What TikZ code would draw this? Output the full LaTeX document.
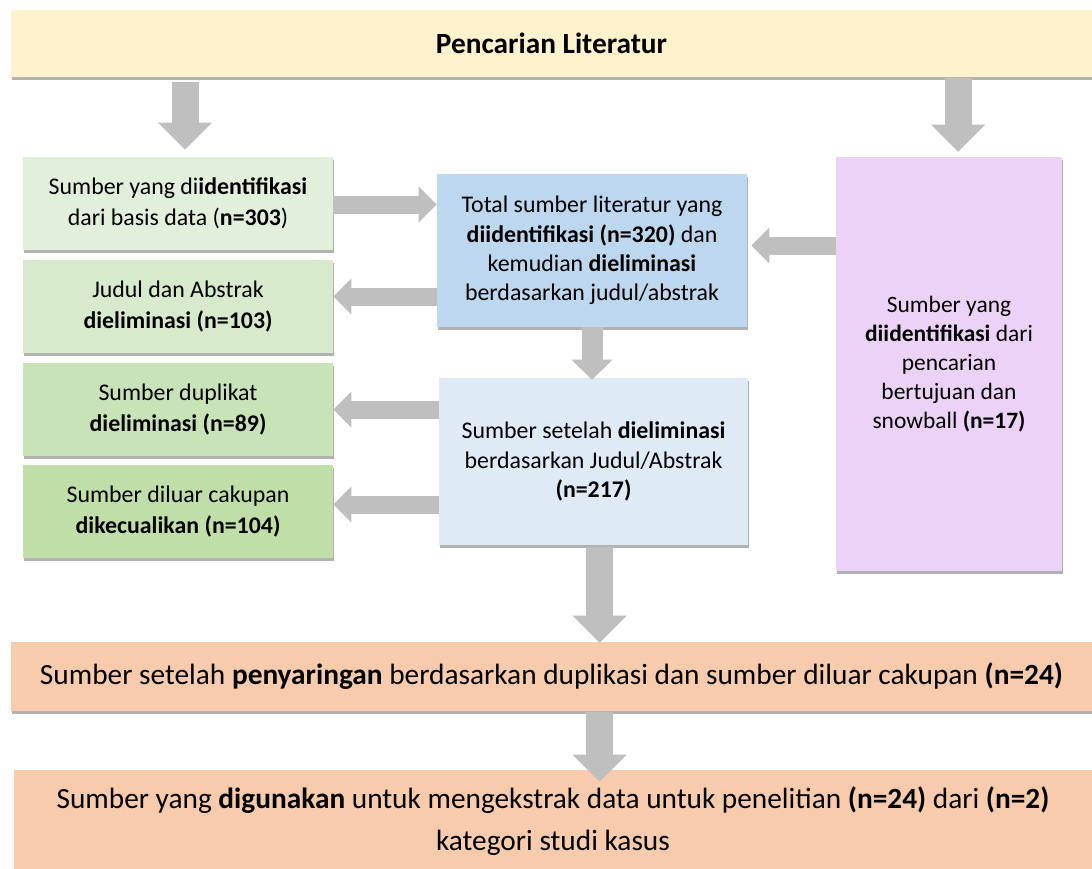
\documentclass[tikz,border=0pt]{standalone}
\usepackage{fontspec}
\setmainfont{Carlito}
\usetikzlibrary{arrows.meta,calc,shadows}

\definecolor{arrowgray}{HTML}{BFBFBF}
\definecolor{titleyellow}{RGB}{255,242,204}
\definecolor{greenA}{RGB}{226,239,218}
\definecolor{greenB}{RGB}{216,234,204}
\definecolor{greenC}{RGB}{201,227,184}
\definecolor{greenD}{RGB}{192,222,168}
\definecolor{blueA}{RGB}{189,215,238}
\definecolor{blueB}{RGB}{222,234,246}
\definecolor{lilac}{RGB}{237,210,247}
\definecolor{peach}{RGB}{248,203,173}

\tikzset{
  box/.style={rectangle, inner sep=0pt, align=center,
    font=\fontsize{17.9}{22.1}\selectfont,
    drop shadow={shadow xshift=0.75pt, shadow yshift=-2.25pt, opacity=0.3, fill=black}},
  sidebox/.style={box, minimum width=232.5pt, minimum height=69.75pt,
    font=\fontsize{17.9}{23.2}\selectfont},
  widebox/.style={box, fill=peach, font=\fontsize{22}{31.5}\selectfont},
  bigarrow/.style={draw=arrowgray, line width=20.25pt,
    -{Triangle[width=40.5pt,length=20.25pt,line width=0pt]}},
  downarrow/.style={draw=arrowgray, line width=15.75pt,
    -{Triangle[width=30.75pt,length=15pt,line width=0pt]}},
  sidearrow/.style={draw=arrowgray, line width=13.5pt,
    -{Triangle[width=27pt,length=13.5pt,line width=0pt]}}
}

\begin{document}
\begin{tikzpicture}[x=0.75pt,y=-0.75pt]
  \fill[white] (0,0) rectangle (1092,868);
  \useasboundingbox (0,0) rectangle (1092,868);

  % search
  \node[box, fill=titleyellow, minimum width=810.75pt, minimum height=50.25pt, font=\fontsize{22}{26}\selectfont] (search) at (551.5,43.5) {\textbf{Pencarian Literatur}};

  % left column
  \node[sidebox, fill=greenA] (found) at (178,203.5) {Sumber yang di\textbf{identifikasi}\\dari basis data (\textbf{n=303})};
  \node[sidebox, fill=greenB] (title) at (178,306.5) {Judul dan Abstrak\\\textbf{dieliminasi (n=103)}};
  \node[sidebox, fill=greenC] (dupl) at (178,409.5) {Sumber duplikat\\\textbf{dieliminasi (n=89)}};
  \node[sidebox, fill=greenD] (scope) at (178,511.5) {Sumber diluar cakupan\\\textbf{dikecualikan (n=104)}};

  % middle column
  \node[box, fill=blueA, minimum width=232.5pt, minimum height=114.75pt] (total) at (592,250.5) {Total sumber literatur yang\\\textbf{diidentifikasi (n=320)} dan\\kemudian \textbf{dieliminasi}\\berdasarkan judul/abstrak};
  \node[box, fill=blueB, minimum width=231.75pt, minimum height=125.25pt] (after) at (593.5,461.5) {Sumber setelah \textbf{dieliminasi}\\berdasarkan Judul/Abstrak\\\textbf{(n=217)}};

  % right column
  \node[box, fill=lilac, minimum width=169.5pt, minimum height=310.5pt, font=\fontsize{17.6}{21.8}\selectfont] (snow) at (949,364) {Sumber yang\\\textbf{diidentifikasi} dari\\pencarian\\bertujuan dan\\snowball \textbf{(n=17)}};

  % bottom
  \node[widebox, minimum width=810.75pt, minimum height=51.75pt] (screen) at (551.5,676.5) {Sumber setelah \textbf{penyaringan} berdasarkan duplikasi dan sumber diluar cakupan \textbf{(n=24)}};
  \node[widebox, minimum width=808.5pt, minimum height=76.5pt] (used) at (553,821) {Sumber yang \textbf{digunakan} untuk mengekstrak data untuk penelitian \textbf{(n=24)} dari \textbf{(n=2)}\\kategori studi kasus};

  % arrows
  \draw[bigarrow] ($(found.north |- search.south)+(7,5)$) -- ($(found.north)+(7,-7)$);
  \draw[bigarrow] ($(snow.north |- search.south)+(9,1)$) -- ($(snow.north)+(9,-5)$);
  \draw[sidearrow] ($(found.east)+(0,1)$) -- ($(found.east -| total.west)+(0,1)$);
  \draw[sidearrow] ($(total.west |- title.east)+(0,-10)$) -- ($(title.east)+(0,-10)$);
  \draw[sidearrow] ($(snow.west |- total.east)+(0,-5)$) -- ($(total.east)+(4,-5)$);
  \draw[downarrow] (total.south) -- ($(total.south |- after.north)+(0,2)$);
  \draw[sidearrow] (after.west |- dupl.east) -- (dupl.east);
  \draw[sidearrow] ($(after.west |- scope.east)+(0,-7)$) -- ($(scope.east)+(0,-7)$);
  \draw[bigarrow] ($(after.south)+(6,2)$) -- ($(after.south |- screen.north)+(6,1)$);
  \draw[bigarrow] ($(after.south |- screen.south)+(6,1)$) -- ($(after.south |- used.north)+(6,12)$);
\end{tikzpicture}
\end{document}
